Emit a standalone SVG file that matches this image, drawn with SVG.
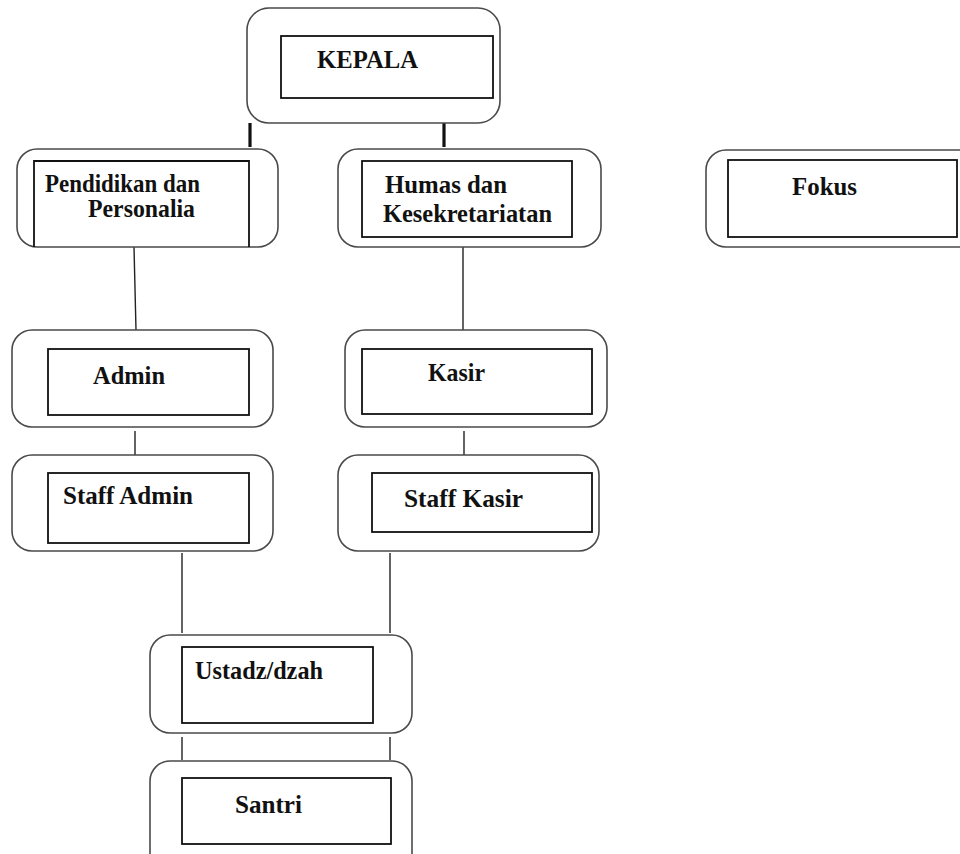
<svg xmlns="http://www.w3.org/2000/svg" width="960" height="854" viewBox="0 0 960 854">
<style>
.outer{fill:none;stroke:#4a4a4a;stroke-width:1.6}
.inner{fill:none;stroke:#111;stroke-width:1.8}
.lbl{font-family:"Liberation Serif","Times New Roman",serif;font-weight:bold;font-size:25px;fill:#111}
.conn{stroke:#222;stroke-width:1.4;fill:none}
.thick{stroke:#111;stroke-width:3.2;fill:none}
</style>
<rect width="960" height="854" fill="#fff"/>
<g id="connectors">
<line class="thick" x1="250" y1="123" x2="250" y2="147"/>
<line class="thick" x1="444" y1="123" x2="444" y2="147"/>
<line class="conn" x1="134" y1="247" x2="136" y2="330"/>
<line class="conn" x1="463" y1="247" x2="463" y2="330"/>
<line class="conn" x1="135" y1="431" x2="135" y2="455"/>
<line class="conn" x1="464" y1="431" x2="464" y2="455"/>
<line class="conn" x1="182" y1="553" x2="182" y2="633"/>
<line class="conn" x1="390" y1="553" x2="390" y2="633"/>
<line class="conn" x1="182" y1="737" x2="182" y2="760"/>
<line class="conn" x1="390" y1="737" x2="390" y2="760"/>
</g>
<g id="kepala">
<rect class="outer" x="247" y="8" width="253" height="115" rx="22"/>
<rect class="inner" x="281" y="36" width="212" height="62"/>
<text class="lbl" x="317" y="68" textLength="101" lengthAdjust="spacingAndGlyphs">KEPALA</text>
</g>
<g id="pendidikan">
<rect class="outer" x="17" y="149" width="261" height="98" rx="20"/>
<path class="inner" d="M34 247V161H249V247"/>
<text class="lbl" x="45" y="192" textLength="155" lengthAdjust="spacingAndGlyphs">Pendidikan dan</text>
<text class="lbl" x="88" y="217" textLength="107" lengthAdjust="spacingAndGlyphs">Personalia</text>
</g>
<g id="humas">
<rect class="outer" x="338" y="149" width="263" height="98" rx="20"/>
<rect class="inner" x="362" y="161" width="210" height="76"/>
<text class="lbl" x="385" y="193" textLength="122" lengthAdjust="spacingAndGlyphs">Humas dan</text>
<text class="lbl" x="383" y="222" textLength="169" lengthAdjust="spacingAndGlyphs">Kesekretariatan</text>
</g>
<g id="fokus">
<rect class="outer" x="706" y="150" width="290" height="97" rx="20"/>
<rect class="inner" x="728" y="160" width="229" height="77"/>
<text class="lbl" x="792" y="195" textLength="65" lengthAdjust="spacingAndGlyphs">Fokus</text>
</g>
<g id="admin">
<rect class="outer" x="12" y="330" width="261" height="97" rx="20"/>
<rect class="inner" x="48" y="349" width="201" height="66"/>
<text class="lbl" x="93" y="384" textLength="72" lengthAdjust="spacingAndGlyphs">Admin</text>
</g>
<g id="kasir">
<rect class="outer" x="345" y="330" width="262" height="97" rx="20"/>
<rect class="inner" x="362" y="349" width="230" height="65"/>
<text class="lbl" x="428" y="381" textLength="57" lengthAdjust="spacingAndGlyphs">Kasir</text>
</g>
<g id="staff-admin">
<rect class="outer" x="12" y="455" width="261" height="96" rx="20"/>
<rect class="inner" x="48" y="473" width="201" height="70"/>
<text class="lbl" x="63" y="504" textLength="130" lengthAdjust="spacingAndGlyphs">Staff Admin</text>
</g>
<g id="staff-kasir">
<rect class="outer" x="338" y="455" width="261" height="96" rx="20"/>
<rect class="inner" x="372" y="473" width="220" height="59"/>
<text class="lbl" x="404" y="507" textLength="119" lengthAdjust="spacingAndGlyphs">Staff Kasir</text>
</g>
<g id="ustadz">
<rect class="outer" x="150" y="635" width="262" height="98" rx="20"/>
<rect class="inner" x="182" y="647" width="191" height="76"/>
<text class="lbl" x="195" y="679" textLength="128" lengthAdjust="spacingAndGlyphs">Ustadz/dzah</text>
</g>
<g id="santri">
<rect class="outer" x="150" y="761" width="262" height="120" rx="20"/>
<rect class="inner" x="182" y="778" width="209" height="66"/>
<text class="lbl" x="235" y="813" textLength="67" lengthAdjust="spacingAndGlyphs">Santri</text>
</g>
</svg>
